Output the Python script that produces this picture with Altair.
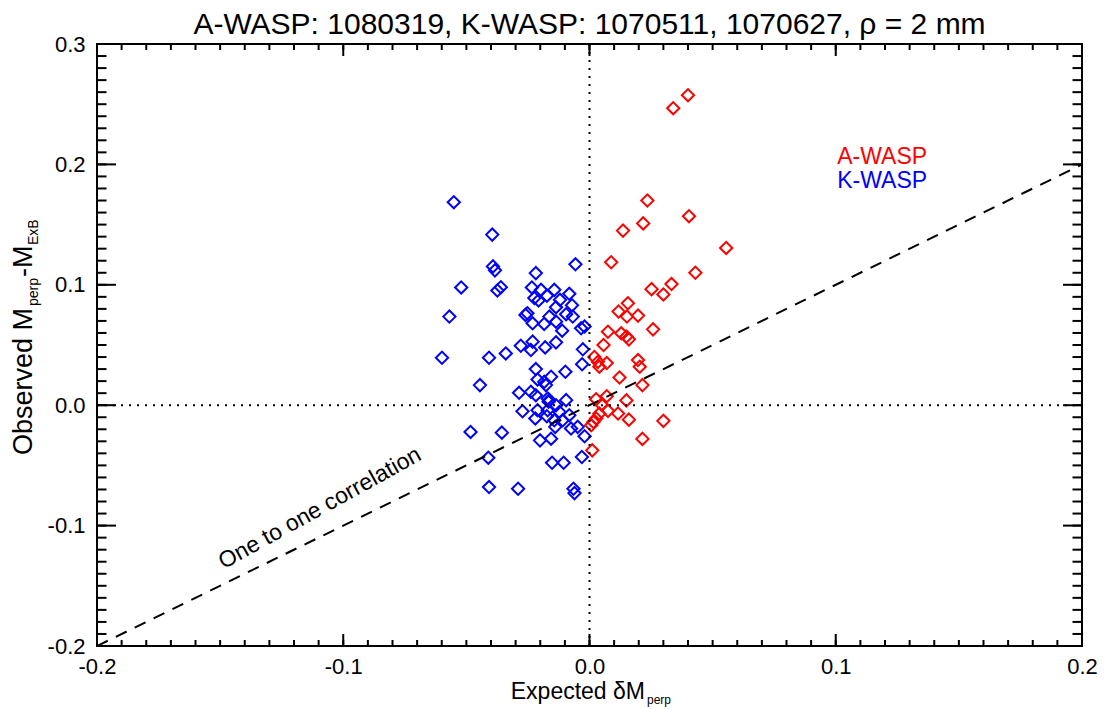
import altair as alt
import pandas as pd

# ---- data ----
a_x = [0.040, 0.034, 0.0235, 0.0404, 0.0218, 0.0136, 0.0555, 0.0088, 0.043,
       0.0252, 0.0333, 0.030, 0.0156, 0.0118, 0.0152, 0.0197, 0.0258, 0.0075,
       0.0129, 0.015, 0.016, 0.0057, 0.002, 0.0034, 0.004, 0.007, 0.0197,
       0.0204, 0.0122, 0.0215, 0.0027, 0.007, 0.0048, 0.015, 0.0075, 0.0116,
       0.016, 0.030, 0.004, 0.0016, 0.0007, 0.0027, 0.0215, 0.0011]
a_y = [0.2575, 0.2467, 0.170, 0.157, 0.151, 0.145, 0.1306, 0.1187, 0.110,
       0.0964, 0.1006, 0.092, 0.0847, 0.0778, 0.0736, 0.0744, 0.063, 0.061,
       0.0597, 0.057, 0.0547, 0.050, 0.040, 0.036, 0.032, 0.035, 0.0375,
       0.032, 0.023, 0.0167, 0.005, 0.0075, 0.0006, 0.004, -0.0047, -0.0069,
       -0.012, -0.013, -0.007, -0.014, -0.0167, -0.011, -0.028, -0.0375]

k_x = [-0.0551, -0.0395, -0.0392, -0.0384, -0.0057, -0.0218, -0.0521, -0.0374,
       -0.036, -0.0234, -0.0197, -0.0143, -0.0082, -0.0224, -0.0207, -0.0173,
       -0.012, -0.0071, -0.0136, -0.0569, -0.026, -0.0252, -0.0163, -0.0095,
       -0.0068, -0.0231, -0.0184, -0.0136, -0.0111, -0.0034, -0.002,
       -0.0231, -0.0279, -0.0238, -0.018, -0.0136, -0.0027, -0.0599, -0.0408,
       -0.034, -0.003, -0.0218, -0.0098, -0.0445, -0.0211, -0.0184, -0.0156,
       -0.0177, -0.0286, -0.0238, -0.0218, -0.017, -0.0163, -0.0166, -0.0095,
       -0.0136, -0.0272, -0.0211, -0.017, -0.0122, -0.022, -0.0173, -0.0143,
       -0.0109, -0.0082, -0.0139, -0.0075, -0.0048, -0.002, -0.0483, -0.0356,
       -0.0201, -0.0156, -0.0411, -0.0031, -0.0152, -0.0105, -0.0408, -0.029,
       -0.0065, -0.0061]
k_y = [0.1686, 0.1417, 0.1153, 0.112, 0.117, 0.1097, 0.0978, 0.0953,
       0.098, 0.0978, 0.0958, 0.0958, 0.0925, 0.089, 0.087, 0.091,
       0.0875, 0.083, 0.0814, 0.0736, 0.075, 0.0764, 0.0736, 0.0756,
       0.0736, 0.068, 0.0675, 0.0694, 0.0619, 0.0639, 0.0653,
       0.0528, 0.0494, 0.0458, 0.048, 0.0522, 0.0464, 0.0394, 0.0394,
       0.043, 0.034, 0.030, 0.0278, 0.0167, 0.0214, 0.0194, 0.0236,
       0.0167, 0.0103, 0.0111, 0.0083, 0.0056, 0.0042, 0.0028, 0.0042,
       0.0, -0.005, -0.0042, -0.0042, -0.0056, -0.011, -0.0092, -0.0125,
       -0.0125, -0.0083, -0.018, -0.0194, -0.018, -0.0258, -0.0222, -0.0228,
       -0.0292, -0.0278, -0.0436, -0.043, -0.0478, -0.0478, -0.068, -0.0694,
       -0.0694, -0.073]

x_major = [-0.2, -0.1, 0.0, 0.1, 0.2]
y_major = [-0.2, -0.1, 0.0, 0.1, 0.2, 0.3]
x_minor = [round(-0.2 + 0.01 * i, 2) for i in range(41)]
y_minor = [round(-0.2 + 0.01 * i, 2) for i in range(51)]
line_x = [-0.2, 0.2]
line_y = [-0.2, 0.2]

TITLE = "A-WASP: 1080319, K-WASP: 1070511, 1070627, \u03c1 = 2 mm"
FONT = "Liberation Sans"

W, H = 985, 602
OX, OY = 97, 44  # plot-area origin in the page
XD, YD = [-0.2, 0.2], [-0.2, 0.3]
xs = alt.Scale(domain=XD, nice=False, zero=False)
ys = alt.Scale(domain=YD, nice=False, zero=False)

lab = "(datum.value < 0 ? '-' : '') + format(abs(datum.value), '.1f')"

pts = pd.DataFrame({
    "x": a_x + k_x,
    "y": a_y + k_y,
    "g": ["A-WASP"] * len(a_x) + ["K-WASP"] * len(k_x),
})

points = alt.Chart(pts).mark_point(
    shape="diamond", filled=False, strokeWidth=2, size=150, opacity=1
).encode(
    x=alt.X("x:Q", scale=xs, title="",
            axis=alt.Axis(values=x_major, labelExpr=lab, orient="bottom",
                          labelFlush=False)),
    y=alt.Y("y:Q", scale=ys, title="",
            axis=alt.Axis(values=y_major, labelExpr=lab, orient="left",
                          labelFlush=False)),
    color=alt.Color("g:N", scale=alt.Scale(domain=["A-WASP", "K-WASP"],
                                           range=["#ff0000", "#0000ff"]),
                    legend=None),
)

xmin = pd.DataFrame({"v": x_minor})
xmaj = pd.DataFrame({"v": x_major})
ymin = pd.DataFrame({"v": y_minor})
ymaj = pd.DataFrame({"v": y_major})


def xticks(df, length):
    base = alt.Chart(df).mark_rule(color="black", strokeWidth=2)
    b = base.encode(x=alt.X("v:Q", scale=xs, title=""),
                    y=alt.value(H), y2=alt.value(H - length))
    t = base.encode(x=alt.X("v:Q", scale=xs, title=""),
                    y=alt.value(0), y2=alt.value(length))
    return [b, t]


def yticks(df, length):
    base = alt.Chart(df).mark_rule(color="black", strokeWidth=2)
    l = base.encode(y=alt.Y("v:Q", scale=ys, title=""),
                    x=alt.value(0), x2=alt.value(length))
    r = base.encode(y=alt.Y("v:Q", scale=ys, title=""),
                    x=alt.value(W), x2=alt.value(W - length))
    return [l, r]


ticks = xticks(xmin, 6) + xticks(xmaj, 12) + yticks(ymin, 9.5) + yticks(ymaj, 19)

zero_df = pd.DataFrame({"v": [0.0]})
vzero = alt.Chart(zero_df).mark_rule(color="black", strokeWidth=2, strokeDash=[2, 6]).encode(
    x=alt.X("v:Q", scale=xs, title=""), y=alt.value(0), y2=alt.value(H))
hzero = alt.Chart(zero_df).mark_rule(color="black", strokeWidth=2, strokeDash=[2, 6]).encode(
    y=alt.Y("v:Q", scale=ys, title=""), x=alt.value(0), x2=alt.value(W))

one = alt.Chart(pd.DataFrame({"x": line_x, "y": line_y})).mark_line(
    color="black", strokeWidth=2, strokeDash=[12, 9], clip=True
).encode(x=alt.X("x:Q", scale=xs, title=""), y=alt.Y("y:Q", scale=ys, title=""))

ann = pd.DataFrame({"x": [-0.1095], "y": [-0.0855], "t": ["One to one correlation"]})
ann_text = alt.Chart(ann).mark_text(
    font=FONT, fontSize=23, angle=331, align="center", baseline="middle", color="black"
).encode(x=alt.X("x:Q", scale=xs, title=""), y=alt.Y("y:Q", scale=ys, title=""), text="t:N")

leg = pd.DataFrame({"x": [0.1006, 0.1006], "y": [0.206, 0.186],
                    "t": ["A-WASP", "K-WASP"]})
leg_text = alt.Chart(leg).mark_text(
    font=FONT, fontSize=23, align="left", baseline="middle"
).encode(x=alt.X("x:Q", scale=xs, title=""), y=alt.Y("y:Q", scale=ys, title=""),
         text="t:N",
         color=alt.Color("t:N", scale=alt.Scale(domain=["A-WASP", "K-WASP"],
                                                range=["#ff0000", "#0000ff"]),
                         legend=None))


def txt(s, x, y, size, align="left", angle=0):
    """Text placed at page pixel (x, y), alphabetic baseline."""
    return alt.Chart(pd.DataFrame({"t": [s]})).mark_text(
        font=FONT, fontSize=size, align=align, baseline="alphabetic",
        angle=angle, color="black"
    ).encode(text="t:N", x=alt.value(x - OX), y=alt.value(y - OY))


title_t = txt(TITLE, OX + W / 2, 34, 30, align="center")

xt1 = txt("Expected \u03b4M", 645, 699, 23, align="right")
xt2 = txt("perp", 647, 704, 12)

yt1 = txt("Observed M", 32, 455, 27, angle=270)
yt2 = txt("perp", 38, 306, 14, angle=270)
yt3 = txt("-M", 32, 277, 27, angle=270)
yt4 = txt("ExB", 38, 245, 14, angle=270)

chart = alt.layer(
    points, *ticks, vzero, hzero, one, ann_text, leg_text, title_t,
    xt1, xt2, yt1, yt2, yt3, yt4
).properties(
    width=W, height=H,
    padding={"left": OX, "top": OY, "right": 1106 - OX - W, "bottom": 709 - OY - H},
    autosize=alt.AutoSizeParams(type="none"),
).configure_view(
    stroke="black", strokeWidth=2
).configure_axis(
    domain=False, ticks=False, grid=False, labelFont=FONT, labelFontSize=22,
    labelColor="black", labelPadding=10
).configure_axisLeft(labelPadding=12)

chart.save("out.html", embed_options={"renderer": "svg", "actions": False})
